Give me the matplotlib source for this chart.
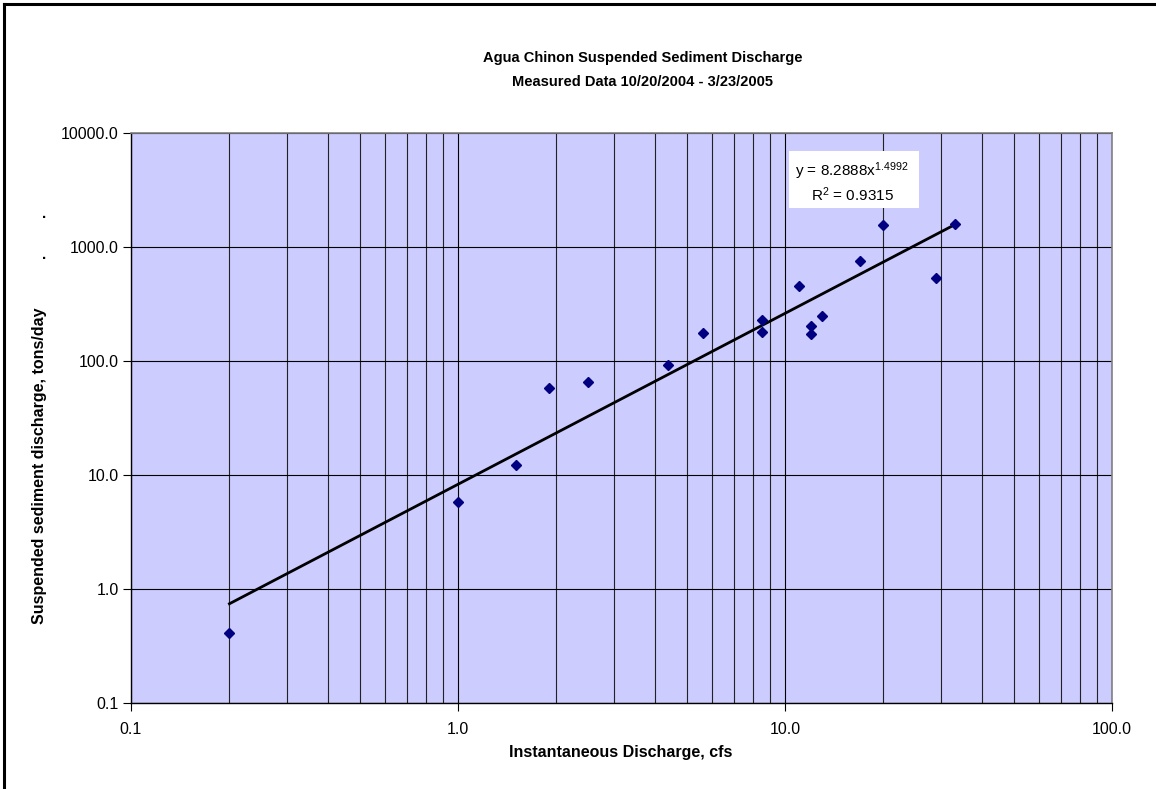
import numpy as np
import matplotlib
matplotlib.use('Agg')
import matplotlib.pyplot as plt
from matplotlib.ticker import LogLocator, FuncFormatter, NullFormatter
from matplotlib.lines import Line2D

plt.rcParams['font.family'] = ['Liberation Sans', 'DejaVu Sans']
plt.rcParams['mathtext.fontset'] = 'custom'
plt.rcParams['mathtext.rm'] = 'Liberation Sans'
plt.rcParams['mathtext.it'] = 'Liberation Sans'

# Mediciones: caudal instantáneo (cfs) y descarga de sedimento (ton/día)
caudal_cfs = [0.2, 1.0, 1.5, 1.9, 2.5, 4.4, 5.6, 8.5, 8.5, 11.0,
              12.0, 12.0, 13.0, 17.0, 20.0, 29.0, 33.0]
sedimento_tpd = [0.41, 5.8, 12.2, 58.0, 65.0, 92.0, 176.0, 228.0, 180.0, 458.0,
                 203.0, 172.0, 247.0, 754.0, 1550.0, 538.0, 1580.0]

# Ajuste potencial y = a x^b
coef_a = 8.2888
coef_b = 1.4992
r2 = 0.9315

W, H = 1156, 789
fig = plt.figure(figsize=(W / 100, H / 100), dpi=100)
fig.patch.set_facecolor('white')

# ejes en pixeles: izquierda 131, derecha 1112, arriba 133, abajo 703
ax = fig.add_axes([131 / W, 1 - 703 / H, (1112 - 131) / W, (703 - 133) / H])
ax.set_facecolor('#CCCCFF')
ax.set_xscale('log')
ax.set_yscale('log')
ax.set_xlim(0.1, 100)
ax.set_ylim(0.1, 10000)

ax.xaxis.set_major_locator(LogLocator(base=10, numticks=10))
ax.xaxis.set_minor_locator(LogLocator(base=10, subs=np.arange(2, 10), numticks=20))
ax.yaxis.set_major_locator(LogLocator(base=10, numticks=10))
ax.yaxis.set_minor_locator(LogLocator(base=10, subs=[], numticks=10))
fmt = FuncFormatter(lambda v, p: f'{v:.1f}')
ax.xaxis.set_major_formatter(fmt)
ax.yaxis.set_major_formatter(fmt)
ax.xaxis.set_minor_formatter(NullFormatter())
ax.yaxis.set_minor_formatter(NullFormatter())

ax.grid(True, which='major', axis='both', color='black', linewidth=0.8)
ax.grid(True, which='minor', axis='x', color='#222222', linewidth=0.8)
ax.set_axisbelow(True)

ax.tick_params(axis='both', which='major', direction='out', length=6, width=0.8,
               labelsize=11.5, colors='black')
ax.tick_params(axis='x', which='major', pad=8)
ax.tick_params(axis='y', which='major', pad=3)
ax.tick_params(which='minor', length=0)

for lado in ['top', 'right']:
    ax.spines[lado].set_color('#808080')
    ax.spines[lado].set_linewidth(1.2)
for lado in ['left', 'bottom']:
    ax.spines[lado].set_color('black')
    ax.spines[lado].set_linewidth(1.0)

# linea de tendencia
x_fit = np.logspace(np.log10(min(caudal_cfs)), np.log10(max(caudal_cfs)), 200)
ax.plot(x_fit, coef_a * x_fit ** coef_b, color='black', linewidth=2.0, zorder=3)

# puntos medidos
ax.plot(caudal_cfs, sedimento_tpd, linestyle='none', marker='D', markersize=5.5,
        color='#000080', markeredgecolor='#000080', zorder=4)

# etiqueta de la ecuación
fig.patches.append(plt.Rectangle((789 / W, 1 - 208 / H), 130 / W, 57 / H,
                                 transform=fig.transFigure, facecolor='white',
                                 edgecolor='none', zorder=5))
fig.text(852 / W, 1 - 171 / H, f'y = {coef_a:.4f}x$^{{{coef_b:.4f}}}$',
         ha='center', va='center', fontsize=11, zorder=6)
fig.text(852 / W, 1 - 195 / H, f'R$^{{2}}$ = {r2:.4f}',
         ha='center', va='center', fontsize=11, zorder=6)

# títulos
fig.text(643 / W, 1 - 58 / H, 'Agua Chinon Suspended Sediment Discharge',
         ha='center', va='center', fontsize=10.5, fontweight='bold')
fig.text(643 / W, 1 - 82 / H, 'Measured Data 10/20/2004 - 3/23/2005',
         ha='center', va='center', fontsize=10.5, fontweight='bold')
fig.text(621 / W, 1 - 753 / H, 'Instantaneous Discharge, cfs',
         ha='center', va='center', fontsize=11.5, fontweight='bold')
fig.text(40 / W, 1 - 466 / H, 'Suspended sediment discharge, tons/day',
         ha='center', va='center', rotation=90, fontsize=11.5, fontweight='bold')
fig.text(44 / W, 1 - 214 / H, '.', ha='center', va='center', fontsize=11, fontweight='bold')
fig.text(44 / W, 1 - 255 / H, '.', ha='center', va='center', fontsize=11, fontweight='bold')

# marco exterior (solo borde izquierdo y superior)
fig.lines.append(Line2D([4 / W, 4 / W], [0, 1 - 4 / H], transform=fig.transFigure,
                        color='black', linewidth=2.2))
fig.lines.append(Line2D([4 / W, 1], [1 - 4 / H, 1 - 4 / H], transform=fig.transFigure,
                        color='black', linewidth=2.2))

plt.savefig('out.png', dpi=100)
